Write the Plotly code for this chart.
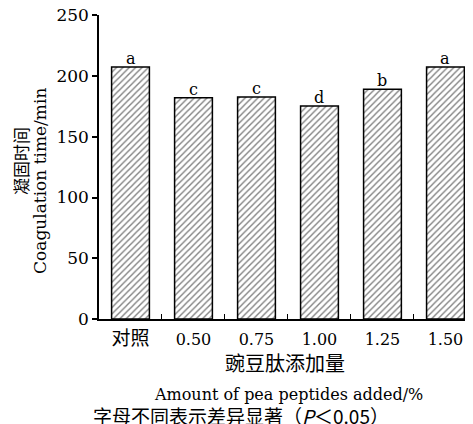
import plotly.graph_objects as go

categories = ["对照", "0.50", "0.75", "1.00", "1.25", "1.50"]
values = [207.4, 182.0, 182.8, 175.4, 189.0, 207.4]
letters = ["a", "c", "c", "d", "b", "a"]
y_ticks = [0, 50, 100, 150, 200, 250]

SERIF = "DejaVu Serif, Noto Sans CJK SC"
CJK = "Noto Sans CJK SC"

tick_text = [f'<span style="font-size:19px">{c}</span>' if c == "对照" else c for c in categories]

fig = go.Figure()
fig.add_trace(go.Bar(
    x=categories, y=values, width=0.6,
    marker=dict(color="white", line=dict(color="black", width=1.5),
                pattern=dict(shape="/", fgcolor="black", bgcolor="white", size=4.5, solidity=0.3)),
    showlegend=False,
))

annotations = []
for i, (v, l) in enumerate(zip(values, letters)):
    annotations.append(dict(x=i, y=v, text=l, showarrow=False, yanchor="bottom", yshift=-3,
                            font=dict(family=SERIF, size=16, color="black")))

annotations += [
    dict(xref="paper", yref="paper", x=0, y=0.52, xshift=-78, xanchor="center", yanchor="middle",
         text="凝固时间", textangle=-90,
         showarrow=False, font=dict(family=CJK, size=17, color="black")),
    dict(xref="paper", yref="paper", x=0, y=0.454, xshift=-59, xanchor="center", yanchor="middle",
         text="Coagulation time/min", textangle=-90,
         showarrow=False, font=dict(family=SERIF, size=17, color="black")),
    dict(xref="paper", yref="paper", x=0, y=0, xshift=186, yshift=-43, xanchor="center", yanchor="middle",
         text="豌豆肽添加量",
         showarrow=False, font=dict(family=CJK, size=20, color="black")),
    dict(xref="paper", yref="paper", x=0, y=0, xshift=189, yshift=-75, xanchor="center", yanchor="middle",
         text="Amount of pea peptides added/%",
         showarrow=False, font=dict(family=SERIF, size=16, color="black")),
    dict(xref="paper", yref="paper", x=0, y=0, xshift=141.5, yshift=-96.5, xanchor="center", yanchor="middle",
         text="字母不同表示差异显著（<i>P</i>＜0.05）",
         showarrow=False, font=dict(family=CJK, size=19, color="black")),
]

fig.update_layout(
    width=465, height=416,
    margin=dict(l=91, r=0, t=7, b=104.5, autoexpand=False),
    plot_bgcolor="white", paper_bgcolor="white",
    bargap=0.4,
    annotations=annotations,
    xaxis=dict(range=[-0.5, 5.437], type="category", showline=True, linecolor="black", linewidth=1.5,
               tickmode="array", tickvals=categories, ticktext=tick_text, ticklabelstandoff=5,
               ticks="inside", tickson="boundaries", ticklen=5, tickcolor="black", tickwidth=1,
               tickfont=dict(family=SERIF, size=16, color="black"), showgrid=False),
    yaxis=dict(range=[0, 250.2], tickvals=y_ticks, showline=True, linecolor="black", linewidth=1.5,
               ticks="outside", ticklen=5, tickcolor="black", tickwidth=1.5, showgrid=False, zeroline=False,
               ticklabeloverflow="allow",
               tickfont=dict(family=SERIF, size=17, color="black")),
)

fig.write_html("out.html")
